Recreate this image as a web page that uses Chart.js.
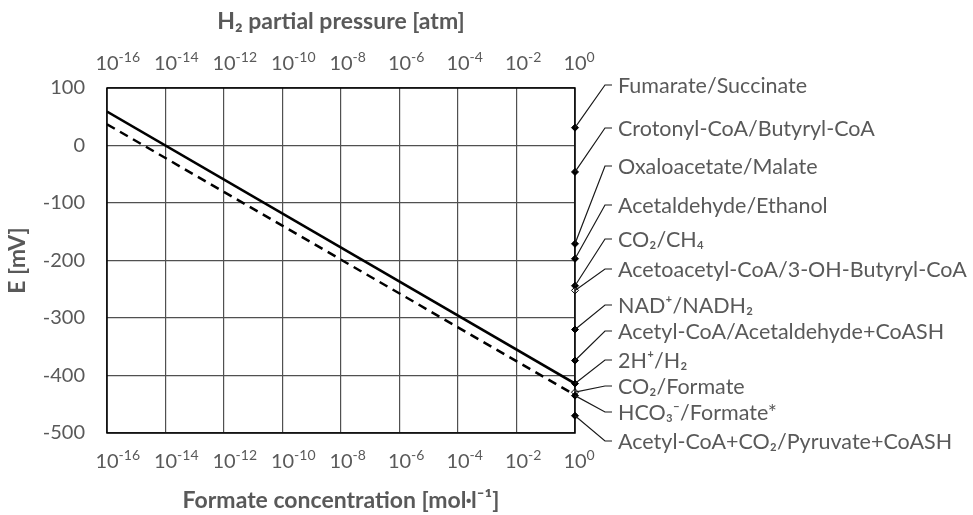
<!DOCTYPE html>
<html>
<head>
<meta charset="utf-8">
<script src="https://cdn.jsdelivr.net/npm/chart.js@4"></script>
<style>
  html, body { margin: 0; padding: 0; background: #fff; }
  #wrap { width: 973px; height: 515px; position: relative; }
</style>
</head>
<body>
<div id="wrap"><canvas id="chart"></canvas></div>
<script>
// axis ticks
const xTicks = [1e-16, 1e-14, 1e-12, 1e-10, 1e-8, 1e-6, 1e-4, 1e-2, 1];
const xExponents = ['-16', '-14', '-12', '-10', '-8', '-6', '-4', '-2', '0'];
const yTicks = [-500, -400, -300, -200, -100, 0, 100];

// H2 line (solid) and formate line (dashed), end points
const h2X = [1e-16, 1];
const h2E = [59, -414];
const formateX = [1e-16, 1];
const formateE = [37, -434];

// redox couples at the right edge (mV)
const couples = [
  'Fumarate/Succinate',
  'Crotonyl-CoA/Butyryl-CoA',
  'Oxaloacetate/Malate',
  'Acetaldehyde/Ethanol',
  'CO₂/CH₄',
  'Acetoacetyl-CoA/3-OH-Butyryl-CoA',
  'NAD⁺/NADH₂',
  'Acetyl-CoA/Acetaldehyde+CoASH',
  '2H⁺/H₂',
  'CO₂/Formate',
  'HCO₃⁻/Formate*',
  'Acetyl-CoA+CO₂/Pyruvate+CoASH'
];
const coupleE = [31, -46, -171, -197, -244, -252, -320, -374, -414, -429, -435, -470];
const coupleX = couples.map(() => 1);

// layout of the label column (pixels)
const labelY = [86, 129, 167, 206, 240, 270, 306, 332, 361, 387, 413, 442];
const hollow = [false, false, false, false, false, true, false, false, false, true, false, false];

const FONT = 'Lato, "Open Sans", sans-serif';
const GREY = '#595959';
const GRID = '#505050';

const extras = {
  id: 'extras',
  afterDraw(chart) {
    const ctx = chart.ctx;
    const a = chart.chartArea;
    const xs = chart.scales.x;
    const ys = chart.scales.y;
    ctx.save();
    // frame
    ctx.strokeStyle = '#000';
    ctx.lineWidth = 1.5;
    ctx.strokeRect(a.left, a.top, a.right - a.left, a.bottom - a.top);

    // log tick labels, top and bottom
    ctx.fillStyle = GREY;
    ctx.textBaseline = 'middle';
    xTicks.forEach((v, i) => {
      const px = xs.getPixelForValue(v);
      [64, 462].forEach(cy => {
        ctx.font = '20px ' + FONT;
        ctx.textAlign = 'center';
        ctx.fillText('10', px, cy);
        const w = ctx.measureText('10').width;
        ctx.font = '14px ' + FONT;
        ctx.textAlign = 'left';
        ctx.fillText(xExponents[i], px + w / 2, cy - 7);
      });
    });

    // leader lines and labels
    ctx.font = '21.5px ' + FONT;
    ctx.textAlign = 'left';
    ctx.strokeStyle = '#1a1a1a';
    ctx.lineWidth = 1.2;
    couples.forEach((name, i) => {
      const px = xs.getPixelForValue(coupleX[i]);
      const py = ys.getPixelForValue(coupleE[i]);
      const ly = labelY[i] - 1;
      ctx.beginPath();
      ctx.moveTo(px, py);
      ctx.lineTo(a.right + 30, ly);
      ctx.lineTo(a.right + 37, ly);
      ctx.stroke();
      ctx.fillText(name, a.right + 43, labelY[i]);
    });
    ctx.restore();
  }
};

new Chart(document.getElementById('chart'), {
  type: 'scatter',
  data: {
    datasets: [
      {
        data: h2X.map((x, i) => ({ x, y: h2E[i] })),
        showLine: true,
        borderColor: '#000',
        borderWidth: 2.5,
        pointRadius: 0
      },
      {
        data: formateX.map((x, i) => ({ x, y: formateE[i] })),
        showLine: true,
        borderColor: '#000',
        borderWidth: 2.5,
        borderDash: [9, 6],
        pointRadius: 0
      },
      {
        data: coupleX.map((x, i) => ({ x, y: coupleE[i] })),
        showLine: false,
        pointStyle: 'rectRot',
        pointRadius: 3.5,
        pointBorderWidth: 1,
        pointBorderColor: '#000',
        pointBackgroundColor: hollow.map(h => h ? '#fff' : '#000'),
        clip: false
      }
    ]
  },
  options: {
    responsive: true,
    maintainAspectRatio: false,
    animation: false,
    layout: { padding: { left: 0, right: 398, top: 0, bottom: 0 } },
    plugins: { legend: { display: false }, tooltip: { enabled: false } },
    scales: {
      x: {
        type: 'logarithmic',
        position: 'bottom',
        min: 1e-16,
        max: 1,
        afterBuildTicks: s => { s.ticks = xTicks.map(v => ({ value: v })); },
        afterFit: s => { s.height = 82; },
        ticks: { display: false },
        grid: { color: GRID, lineWidth: 1.2, drawTicks: false },
        border: { display: false },
        title: {
          display: true,
          text: 'Formate concentration [mol·l⁻¹]',
          color: GREY,
          font: { family: FONT, size: 23, weight: 'bold' },
          padding: { top: 0, bottom: 1 }
        }
      },
      x2: {
        type: 'logarithmic',
        position: 'top',
        min: 1e-16,
        max: 1,
        afterBuildTicks: s => { s.ticks = xTicks.map(v => ({ value: v })); },
        afterFit: s => { s.height = 88; },
        ticks: { display: false },
        grid: { display: false, drawTicks: false },
        border: { display: false },
        title: {
          display: true,
          text: 'H₂ partial pressure [atm]',
          color: GREY,
          font: { family: FONT, size: 23, weight: 'bold' },
          padding: { top: 8, bottom: 0 }
        }
      },
      y: {
        min: -500,
        max: 100,
        afterBuildTicks: s => { s.ticks = yTicks.map(v => ({ value: v })); },
        afterFit: s => { s.width = 107; },
        ticks: {
          color: GREY,
          font: { family: FONT, size: 20 },
          padding: 22
        },
        grid: { color: GRID, lineWidth: 1.2, drawTicks: false },
        border: { display: false },
        title: {
          display: true,
          text: 'E [mV]',
          color: GREY,
          font: { family: FONT, size: 23, weight: 'bold' },
          padding: { top: 4, bottom: 0 }
        }
      }
    }
  },
  plugins: [extras]
});
</script>
</body>
</html>
